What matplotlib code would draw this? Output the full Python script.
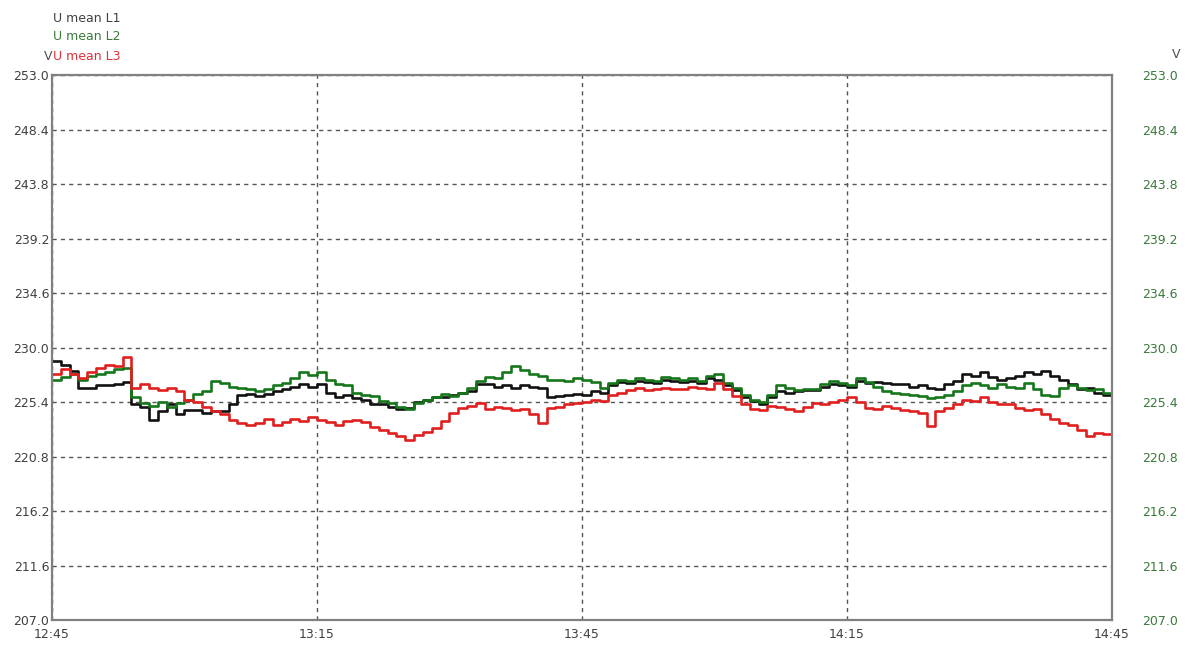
import numpy as np
import matplotlib
matplotlib.use("Agg")
import matplotlib.pyplot as plt
from matplotlib.ticker import FixedLocator

# minutes after 12:45, one value per minute
minutes = list(range(121))

u_l1 = [228.9, 228.5, 228.0, 226.6, 226.6, 226.8, 226.8, 226.9, 227.1, 225.2,
        225.0, 223.9, 224.6, 225.2, 224.4, 224.7, 224.7, 224.5, 224.6, 224.6,
        225.2, 226.0, 226.1, 225.9, 226.1, 226.3, 226.5, 226.7, 226.9, 226.7,
        226.9, 226.2, 225.8, 226.0, 225.7, 225.6, 225.2, 225.2, 225.0, 224.8,
        224.9, 225.4, 225.6, 225.8, 225.8, 226.0, 226.2, 226.3, 226.9, 226.9,
        226.7, 226.8, 226.6, 226.8, 226.7, 226.6, 225.8, 225.9, 226.0, 226.1,
        226.0, 226.3, 226.2, 226.8, 227.1, 227.0, 227.2, 227.1, 227.0, 227.3,
        227.2, 227.1, 227.2, 227.0, 227.4, 227.3, 226.8, 226.4, 225.8, 225.5,
        225.2, 225.8, 226.3, 226.2, 226.3, 226.4, 226.4, 226.7, 226.9, 226.8,
        226.7, 227.2, 227.0, 227.1, 227.0, 226.9, 226.9, 226.7, 226.8, 226.6,
        226.5, 226.9, 227.2, 227.8, 227.6, 227.9, 227.5, 227.3, 227.4, 227.6,
        227.9, 227.8, 228.0, 227.6, 227.3, 226.9, 226.5, 226.6, 226.2, 226.0,
        225.9]

u_l2 = [227.3, 227.5, 227.8, 227.3, 227.6, 227.8, 227.9, 228.2, 228.3, 225.8,
        225.3, 225.1, 225.4, 225.0, 225.3, 225.6, 226.1, 226.3, 227.2, 227.0,
        226.7, 226.6, 226.5, 226.3, 226.5, 226.8, 227.0, 227.4, 227.9, 227.7,
        227.9, 227.3, 226.9, 226.8, 226.2, 226.0, 225.9, 225.5, 225.3, 225.0,
        224.8, 225.3, 225.6, 225.8, 226.1, 225.9, 226.2, 226.6, 227.2, 227.5,
        227.4, 227.9, 228.4, 228.1, 227.8, 227.6, 227.3, 227.3, 227.2, 227.4,
        227.3, 227.1, 226.6, 227.0, 227.3, 227.2, 227.4, 227.3, 227.2, 227.5,
        227.4, 227.3, 227.4, 227.2, 227.6, 227.8, 227.0, 226.6, 226.0, 225.6,
        225.4, 226.0, 226.8, 226.6, 226.4, 226.5, 226.5, 226.9, 227.2, 227.0,
        226.8, 227.4, 227.1, 226.7, 226.3, 226.2, 226.1, 226.0, 225.9, 225.7,
        225.8, 226.0, 226.3, 226.8, 227.0, 226.8, 226.6, 226.9, 226.7, 226.6,
        227.0, 226.5, 226.0, 225.9, 226.6, 226.8, 226.6, 226.4, 226.5, 226.2,
        226.0]

u_l3 = [227.8, 228.2, 227.8, 227.4, 227.9, 228.3, 228.5, 228.4, 229.2, 226.6,
        226.9, 226.6, 226.4, 226.6, 226.3, 225.6, 225.4, 225.0, 224.6, 224.4,
        223.9, 223.6, 223.5, 223.6, 224.0, 223.5, 223.7, 224.0, 223.8, 224.1,
        223.9, 223.7, 223.5, 223.8, 223.9, 223.7, 223.3, 223.0, 222.8, 222.5,
        222.2, 222.6, 222.9, 223.2, 223.8, 224.5, 224.9, 225.1, 225.3, 224.8,
        225.0, 224.9, 224.7, 224.8, 224.4, 223.6, 224.9, 225.0, 225.2, 225.3,
        225.4, 225.6, 225.5, 226.0, 226.2, 226.4, 226.6, 226.4, 226.5, 226.6,
        226.5, 226.5, 226.7, 226.6, 226.5, 227.0, 226.5, 225.9, 225.2, 224.8,
        224.7, 225.1, 225.0, 224.8, 224.6, 225.0, 225.3, 225.2, 225.4, 225.6,
        225.8, 225.4, 224.9, 224.8, 225.1, 224.9, 224.7, 224.6, 224.5, 223.4,
        224.6, 224.9, 225.2, 225.6, 225.5, 225.8, 225.4, 225.2, 225.2, 224.9,
        224.7, 224.8, 224.4, 224.0, 223.6, 223.5, 223.0, 222.5, 222.8, 222.7,
        222.5]

y_ticks = [207.0, 211.6, 216.2, 220.8, 225.4, 230.0, 234.6, 239.2, 243.8, 248.4, 253.0]
x_ticks = [0, 30, 60, 90, 120]
x_labels = ["12:45", "13:15", "13:45", "14:15", "14:45"]

fig = plt.figure(figsize=(11.97, 6.48), dpi=100)
ax = fig.add_axes([0.0434, 0.0432, 0.8856, 0.841])

ax.plot(minutes, u_l1, color="#111111", lw=1.9, drawstyle="steps-post")
ax.plot(minutes, u_l2, color="#15761a", lw=1.9, drawstyle="steps-post")
ax.plot(minutes, u_l3, color="#e0201e", lw=1.9, drawstyle="steps-post")

ax.set_xlim(0, 120)
ax.set_ylim(207.0, 253.0)
ax.xaxis.set_major_locator(FixedLocator(x_ticks))
ax.set_xticklabels(x_labels)
ax.yaxis.set_major_locator(FixedLocator(y_ticks))
ax.set_yticklabels([f"{v:.1f}" for v in y_ticks])
ax.tick_params(axis="both", length=0, labelsize=9, labelcolor="#404040")
ax.tick_params(axis="y", pad=2)
ax.tick_params(axis="x", pad=6)

ax.grid(True, color="#555555", linestyle=(0, (3, 3)), lw=1)
for s in ax.spines.values():
    s.set_color("#808080")
    s.set_linewidth(1.6)

# right axis labels in green
ax2 = ax.twinx()
ax2.set_ylim(207.0, 253.0)
ax2.yaxis.set_major_locator(FixedLocator(y_ticks))
ax2.set_yticklabels([f"{v:.1f}" for v in y_ticks])
ax2.yaxis.set_tick_params(which="major", length=0, labelsize=9, labelcolor="#3a7a3a", pad=22)
for s in ax2.spines.values():
    s.set_visible(False)

# legend-like labels top left
fig.text(53 / 1197, 1 - 18 / 648, "U mean L1", color="#404040", fontsize=9, va="center")
fig.text(53 / 1197, 1 - 37 / 648, "U mean L2", color="#3a7a3a", fontsize=9, va="center")
fig.text(53 / 1197, 1 - 56 / 648, "U mean L3", color="#e0303a", fontsize=9, va="center")
fig.text(52 / 1197, 1 - 56 / 648, "V", color="#505050", fontsize=9, va="center", ha="right")
fig.text(1180 / 1197, 1 - 55 / 648, "V", color="#505050", fontsize=9, va="center", ha="right")

fig.savefig("out.png", dpi=100)
